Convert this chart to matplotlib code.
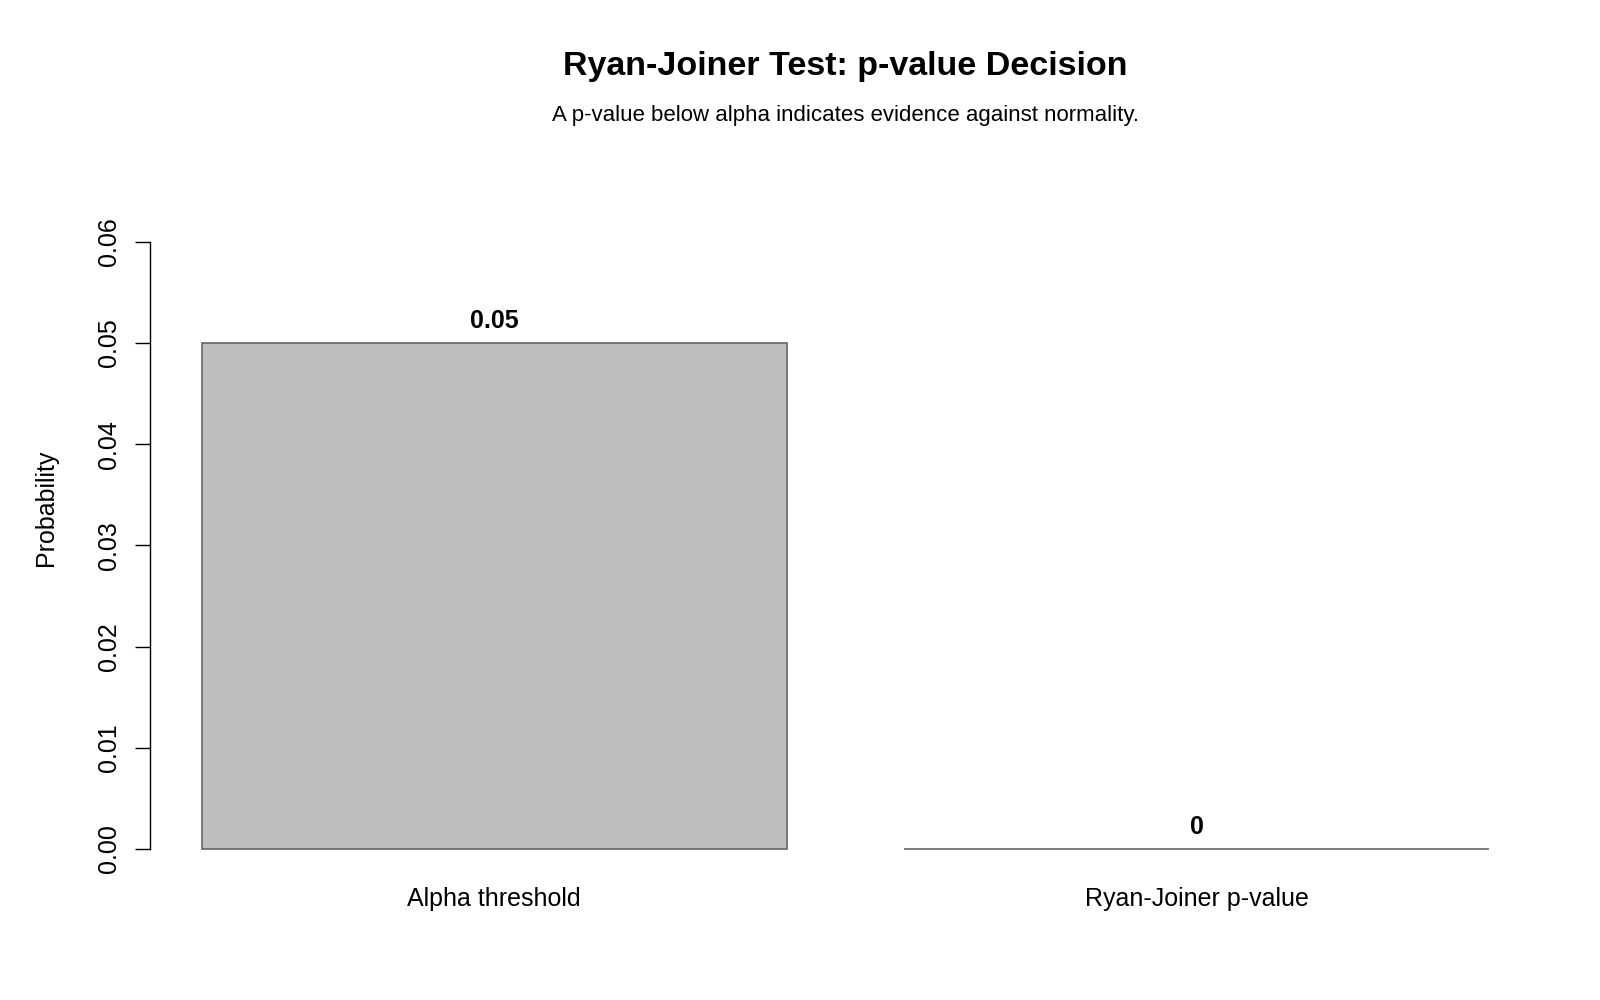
import numpy as np
import matplotlib.pyplot as plt

plt.rcParams['font.family'] = ['Liberation Sans', 'DejaVu Sans']

categories = ['Alpha threshold', 'Ryan-Joiner p-value']
values = [0.05, 0.0]
value_labels = ['0.05', '0']
yticks = [0.00, 0.01, 0.02, 0.03, 0.04, 0.05, 0.06]

fig = plt.figure(figsize=(16, 10), dpi=100)
# plot region in figure fraction, matched to the R layout
ax = fig.add_axes([0.09375, 0.1237, 0.963 - 0.09375, 0.8614 - 0.1237])

x = np.array([0.7, 1.9])
ax.bar(x, values, width=1.0, color='#bebebe', edgecolor='#666666', linewidth=1.2)
ax.set_xlim(0.2 - 0.088, 2.4 + 0.088)
ax.set_ylim(-0.0027, 0.0702)

for xi, v, lab in zip(x, values, value_labels):
    ax.annotate(lab, (xi, v), xytext=(0, 15.5), textcoords='offset points',
                ha='center', va='center', fontsize=18, fontweight='bold')

for s in ['top', 'right', 'bottom']:
    ax.spines[s].set_visible(False)
ax.spines['left'].set_bounds(0, 0.06)
ax.spines['left'].set_linewidth(1.0)

ax.set_yticks(yticks)
ax.set_yticklabels([f'{t:.2f}' for t in yticks], rotation=90, va='center', fontsize=18)
ax.tick_params(axis='y', length=11, width=1.0, pad=10)
ax.set_xticks(x)
ax.set_xticklabels(categories, fontsize=18)
ax.tick_params(axis='x', length=0, pad=8)

ax.set_ylabel('Probability', fontsize=18, labelpad=28)

fig.text(0.5284, 0.933, 'Ryan-Joiner Test: p-value Decision', ha='center', va='center',
         fontsize=24.5, fontweight='bold')
fig.text(0.5284, 0.884, 'A p-value below alpha indicates evidence against normality.',
         ha='center', va='center', fontsize=16)

fig.savefig('out.png', dpi=100)
